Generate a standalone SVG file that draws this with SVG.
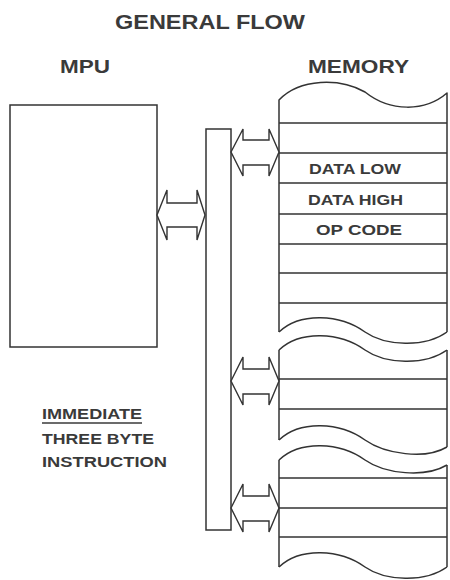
<svg xmlns="http://www.w3.org/2000/svg" width="450" height="580" viewBox="0 0 450 580">
<style>
.ln{fill:none;stroke:#333;stroke-width:1.5;stroke-linejoin:round}
.box{fill:#fff;stroke:#333;stroke-width:1.5}
.arr{fill:#fff;stroke:#333;stroke-width:1.4;stroke-linejoin:miter}
.hd{font-family:"Liberation Sans",Arial,sans-serif;font-weight:bold;fill:#3a3a3a}
.cell{font-family:"Liberation Sans",Arial,sans-serif;font-weight:bold;font-size:14px;fill:#3a3a3a}
</style>
<rect width="450" height="580" fill="#fff"/>
<g id="titles">
<text class="hd" x="115" y="29" font-size="20" textLength="190" lengthAdjust="spacingAndGlyphs">GENERAL FLOW</text>
<text class="hd" x="60" y="73" font-size="18" textLength="50" lengthAdjust="spacingAndGlyphs">MPU</text>
<text class="hd" x="308" y="73" font-size="18" textLength="101" lengthAdjust="spacingAndGlyphs">MEMORY</text>
</g>
<g id="mpu">
<rect class="box" x="10" y="105" width="147" height="242"/>
</g>
<g id="bus">
<rect class="box" x="206" y="129" width="25" height="401"/>
</g>
<g id="memory">
<path class="ln" d="M279,332 L279,100 C300,78 340,78 365,92 C390,112 425,112 447,93 L447,332"/>
<path class="ln" d="M279,332 C300,312 340,314 365,332 C385,346 425,348 447,332"/>
<path class="ln" d="M279,350 C300,330 340,332 365,350 C385,364 425,366 447,350"/>
<path class="ln" d="M279,350 L279,440 M447,350 L447,447"/>
<path class="ln" d="M279,440 C300,420 340,422 365,440 C385,454 425,460 447,447"/>
<path class="ln" d="M279,460 C300,440 340,442 365,460 C385,474 425,478 447,465"/>
<path class="ln" d="M279,460 L279,567 M447,465 L447,567"/>
<path class="ln" d="M279,567 C300,547 340,549 365,567 C385,581 425,583 447,567"/>
<path class="ln" d="M279,123H447M279,153H447M279,183H447M279,214H447M279,244H447M279,273H447M279,303H447M279,379H447M279,409H447M279,478H447M279,508H447M279,537H447"/>
<text class="cell" x="309" y="174" textLength="92" lengthAdjust="spacingAndGlyphs">DATA LOW</text>
<text class="cell" x="308" y="205" textLength="95" lengthAdjust="spacingAndGlyphs">DATA HIGH</text>
<text class="cell" x="316" y="235" textLength="86" lengthAdjust="spacingAndGlyphs">OP CODE</text>
</g>
<g id="caption">
<text class="hd" x="42" y="419" font-size="14" textLength="100" lengthAdjust="spacingAndGlyphs">IMMEDIATE</text>
<line x1="42" y1="423" x2="142" y2="423" stroke="#3a3a3a" stroke-width="1.3"/>
<text class="hd" x="42" y="444" font-size="14" textLength="112" lengthAdjust="spacingAndGlyphs">THREE BYTE</text>
<text class="hd" x="42" y="467" font-size="14" textLength="125" lengthAdjust="spacingAndGlyphs">INSTRUCTION</text>
</g>
<g id="connectors">
<polygon class="arr" points="157,215 167,190 167,203 197,203 197,190 205,215 197,240 197,227 167,227 167,240"/>
<polygon class="arr" points="231,152 243,129 243,140 269,140 269,129 279,152 269,176 269,165 243,165 243,176"/>
<polygon class="arr" points="231,381 243,357 243,369 269,369 269,357 279,381 269,405 269,394 243,394 243,405"/>
<polygon class="arr" points="231,508 243,484 243,496 269,496 269,484 279,508 269,532 269,521 243,521 243,532"/>
</g>
</svg>
